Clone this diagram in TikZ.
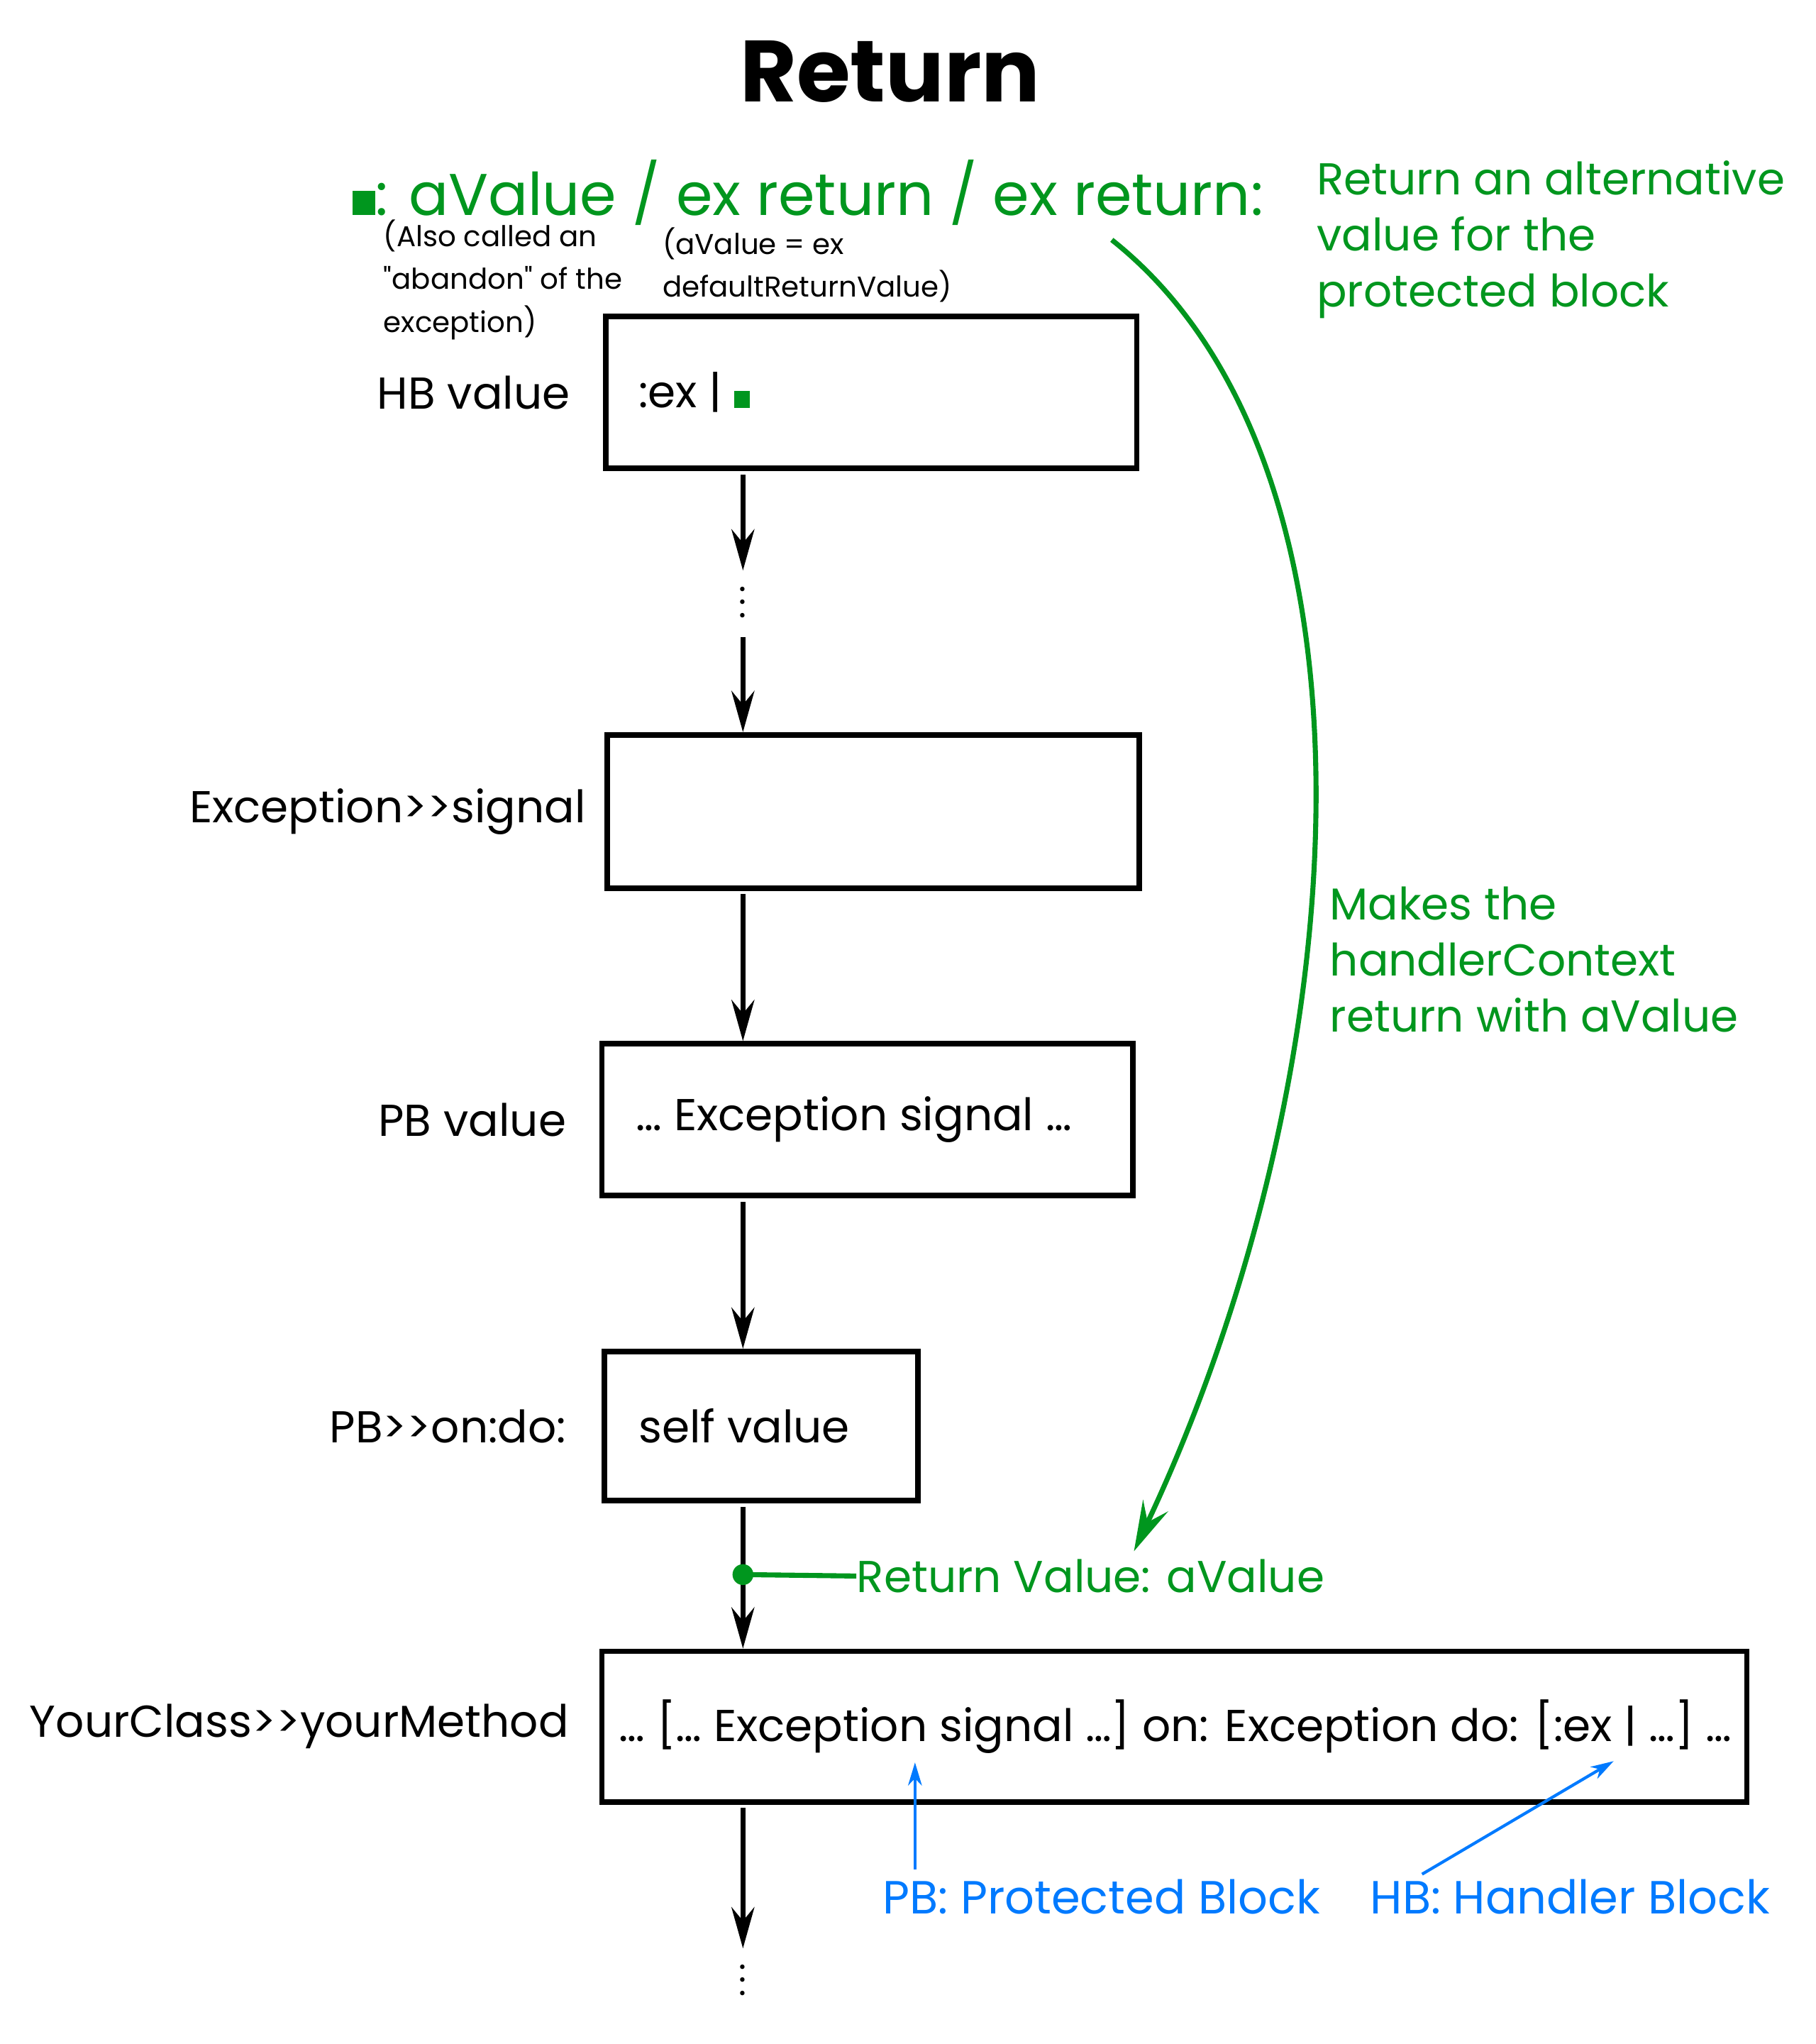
\documentclass[tikz,border=0pt]{standalone}
\usepackage{fontspec}
\setmainfont{Poppins}[Ligatures=TeXOff]
\usetikzlibrary{arrows.meta,positioning}
\definecolor{cGreen}{RGB}{0,150,30}
\definecolor{cBlue}{RGB}{0,122,255}

\begin{document}
\begin{tikzpicture}[x=0.02cm,y=-0.02cm,
    blk/.style={draw,line width=2.4pt,inner sep=0pt},
    txt/.style={inner sep=0pt,font=\fontsize{19.5}{24}\selectfont},
    note/.style={inner sep=0pt,align=left,font=\fontsize{12.5}{18.8}\selectfont},
    gtxt/.style={inner sep=0pt,align=left,text=cGreen,font=\fontsize{19.5}{24.5}\selectfont},
    btxt/.style={inner sep=0pt,text=cBlue,font=\fontsize{20.3}{24.5}\selectfont},
    flow/.style={line width=2.2pt,shorten <=1.5pt,-{Stealth[length=18pt,width=10pt,inset=6pt]}},
    gflow/.style={cGreen,line width=2.2pt,-{Stealth[length=22pt,width=12pt,inset=8pt]}},
    bflow/.style={cBlue,line width=1.3pt,shorten <=4pt,-{Stealth[length=10pt,width=6pt,inset=3pt]}},
    dots/.style={inner sep=0pt,minimum height=0.96cm,align=center,font=\fontsize{16}{5.7}\selectfont}]
  \useasboundingbox (0,0) rectangle (1393,1568);

  \node[font=\fontsize{38}{40}\selectfont\bfseries] (title) at (683,55) {Return};
  \node[anchor=base west,inner sep=0pt,text=cGreen,font=\fontsize{25.7}{30}\selectfont] (hdr) at (270,165) {\rule{10pt}{10.5pt}: aValue / ex return / ex return:};
  \node[note,anchor=north west] (abnote) at (294,168) {(Also called an\\"abandon" of the\\exception)};
  \node[note,anchor=north west] (dvnote) at (508,174) {(aValue = ex\\defaultReturnValue)};
  \node[gtxt,anchor=north west] (altnote) at (1010,123) {Return an alternative\\value for the\\protected block};
  \node[gtxt,anchor=north west] (ctxnote) at (1020,680) {Makes the\\handlerContext\\return with aValue};

  \node[blk,minimum width=8.15cm,minimum height=2.33cm] (hb) at (668.5,301) {};
  \node[txt,right=0.54cm of hb.west] (hbcode) {:ex | \textcolor{cGreen}{\rule{7pt}{7.5pt}}};
  \node[txt,left=0.5cm of hb.west] (hblbl) {HB value};

  \node[blk,minimum width=8.17cm,minimum height=2.35cm] (sig) at (670,622.5) {};
  \node[txt,left=0.28cm of sig.west] (siglbl) {Exception>{}>signal};

  \node[blk,minimum width=8.15cm,minimum height=2.33cm] (pbv) at (665.5,859) {};
  \node[txt,right=0.56cm of pbv.west] (pbvcode) {… Exception signal …};
  \node[txt,left=0.5cm of pbv.west] (pbvlbl) {PB value};

  \node[blk,minimum width=4.81cm,minimum height=2.29cm] (pbo) at (584,1094) {};
  \node[txt,right=0.56cm of pbo.west] (pbocode) {self value};
  \node[txt,left=0.54cm of pbo.west] (pbolbl) {PB>{}>on:do:};

  \node[blk,minimum width=17.57cm,minimum height=2.31cm] (ym) at (901,1324.5) {};
  \node[txt,right=0.3cm of ym.west] (ymcode) {… [… Exception signal …] on: Exception do: [:ex | …] …};
  \node[txt,left=0.46cm of ym.west] (ymlbl) {YourClass>{}>yourMethod};

  \node[dots] (vd1) at (570,462) {.\\.\\.};
  \node[dots] (vd2) at (570,1519) {.\\.\\.};
  \draw[flow] (hb.south -| vd1) -- (vd1.north);
  \draw[flow] (vd1.south) -- (sig.north -| vd1);
  \draw[flow] (sig.south -| vd1) -- (pbv.north -| vd1);
  \draw[flow] (pbv.south -| vd1) -- (pbo.north -| vd1);
  \draw[flow] (pbo.south -| vd1) -- coordinate[pos=0.49] (rvdot) (ym.north -| vd1);
  \draw[flow] (ym.south -| vd1) -- (vd2.north);

  \node[gtxt,anchor=west] (rvtxt) at (657,1209) {Return Value: aValue};
  \draw[cGreen,line width=2.2pt] (rvdot) -- (rvtxt.west);
  \fill[cGreen] (rvdot) circle (0.16cm);

  \coordinate (cstart) at (853,184);
  \coordinate (cend) at (870,1190);
  \draw[gflow] (cstart) .. controls (1075,360) and (1040,830) .. (cend);

  \node[btxt,anchor=west] (pbtxt) at (677,1455) {PB: Protected Block};
  \node[btxt,anchor=west] (hbtxt) at (1051,1455) {HB: Handler Block};
  \coordinate (pbtip) at (702,1352);
  \coordinate (hbtip) at (1238,1351);
  \draw[bflow] (pbtip |- pbtxt.north) -- (pbtip);
  \draw[bflow] ([xshift=0.68cm]hbtxt.north west) -- (hbtip);
\end{tikzpicture}
\end{document}
